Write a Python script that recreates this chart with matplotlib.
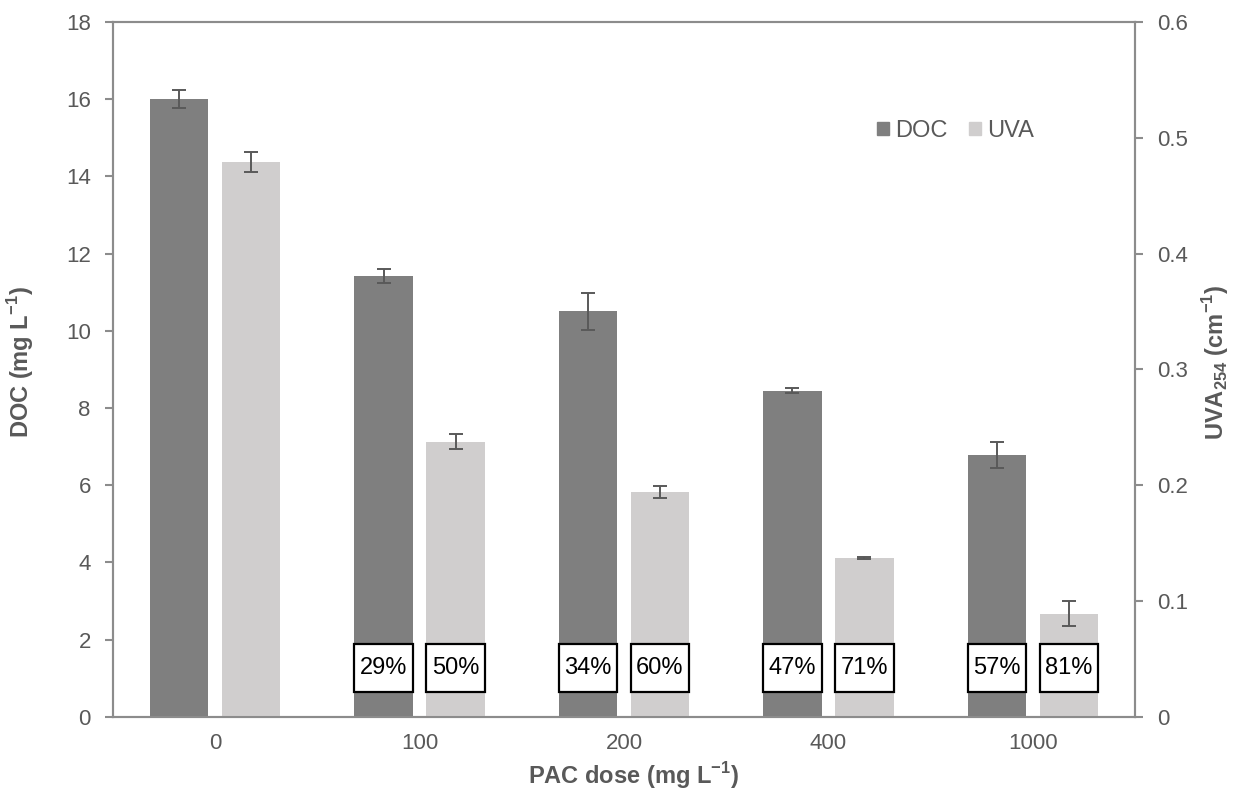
import matplotlib
matplotlib.use("Agg")
import matplotlib.pyplot as plt
from matplotlib.patches import Rectangle, Patch
import numpy as np

plt.rcParams['font.family'] = ['Liberation Sans', 'DejaVu Sans']
plt.rcParams['mathtext.fontset'] = 'custom'
plt.rcParams['mathtext.rm'] = 'Liberation Sans'
plt.rcParams['mathtext.bf'] = 'Liberation Sans:bold'

categories = ['0', '100', '200', '400', '1000']
doc = [16.0, 11.42, 10.50, 8.45, 6.79]
doc_err = [0.23, 0.17, 0.49, 0.065, 0.34]
uva = [0.479, 0.2375, 0.194, 0.137, 0.089]
uva_err = [0.0086, 0.0063, 0.0052, 0.001, 0.011]
doc_removal = ['', '29%', '34%', '47%', '57%']
uva_removal = ['', '50%', '60%', '71%', '81%']

doc_color = '#7f7f7f'
uva_color = '#d0cece'
text_color = '#595959'
spine_color = '#8c8c8c'
err_color = '#595959'

W, H = 1237, 799
fig = plt.figure(figsize=(W/100, H/100), dpi=100)
ax = fig.add_axes([113/W, 1 - 716.7/H, (1135-113)/W, (716.7-22)/H])
ax2 = ax.twinx()

x = np.arange(len(categories))
w = 0.285
off = 0.176

ax.bar(x - off, doc, w, color=doc_color, zorder=2)
ax.errorbar(x - off, doc, yerr=doc_err, fmt='none', ecolor=err_color,
            elinewidth=1.4, capsize=5, capthick=1.4, zorder=3)
ax2.bar(x + off, uva, w, color=uva_color, zorder=2)
ax2.errorbar(x + off, uva, yerr=uva_err, fmt='none', ecolor=err_color,
             elinewidth=1.4, capsize=5, capthick=1.4, zorder=3)

ax.set_xlim(-0.5, len(categories) - 0.5)
ax.set_ylim(0, 18)
ax2.set_ylim(0, 0.6)
ax.set_yticks(np.arange(0, 19, 2))
ax2.set_yticks(np.round(np.arange(0, 0.61, 0.1), 1))
ax2.set_yticklabels(['0'] + [f'{v:.1f}' for v in np.arange(0.1, 0.61, 0.1)])
ax.set_xticks(x)
ax.set_xticklabels(categories)

for a in (ax, ax2):
    for s in a.spines.values():
        s.set_color(spine_color)
        s.set_linewidth(1.5)
    a.tick_params(colors=spine_color, labelcolor=text_color, labelsize=16,
                  width=1.5, length=6)
ax.tick_params(axis='y', pad=10)
ax2.tick_params(axis='y', pad=10)
ax.tick_params(axis='x', length=0, pad=12)

lab_kw = dict(fontsize=17, fontweight='bold', color=text_color,
              ha='center', va='center')
fig.text(21/W, 1 - 362/H, 'DOC (mg L$^{\\mathbf{-1}}$)', rotation=90, **lab_kw)
fig.text(1216/W, 1 - 362/H, 'UVA$_{\\mathbf{254}}$ (cm$^{\\mathbf{-1}}$)',
         rotation=90, **lab_kw)
fig.text(633/W, 1 - 776/H, 'PAC dose (mg L$^{\\mathbf{-1}}$)', **lab_kw)

# removal boxes (in UVA axis units so they sit above all bars)
box_y = 0.042
box_h = 0.041
for i in range(len(categories)):
    for lab, xc in ((doc_removal[i], x[i] - off), (uva_removal[i], x[i] + off)):
        if not lab:
            continue
        ax2.add_patch(Rectangle((xc - w/2, box_y - box_h/2), w, box_h,
                                facecolor='white', edgecolor='black',
                                linewidth=1.6, zorder=5))
        ax2.text(xc, box_y, lab, ha='center', va='center', fontsize=17,
                 color='black', zorder=6)

handles = [Patch(color=doc_color, label='DOC'), Patch(color=uva_color, label='UVA')]
ax2.legend(handles=handles, loc='center left', bbox_to_anchor=(0.7476, 0.843),
           ncol=2, frameon=False, fontsize=17, handlelength=0.51,
           handleheight=0.51, handletextpad=0.25, columnspacing=0.93,
           borderpad=0, borderaxespad=0, labelcolor=text_color)

fig.savefig('out.png', dpi=100)
